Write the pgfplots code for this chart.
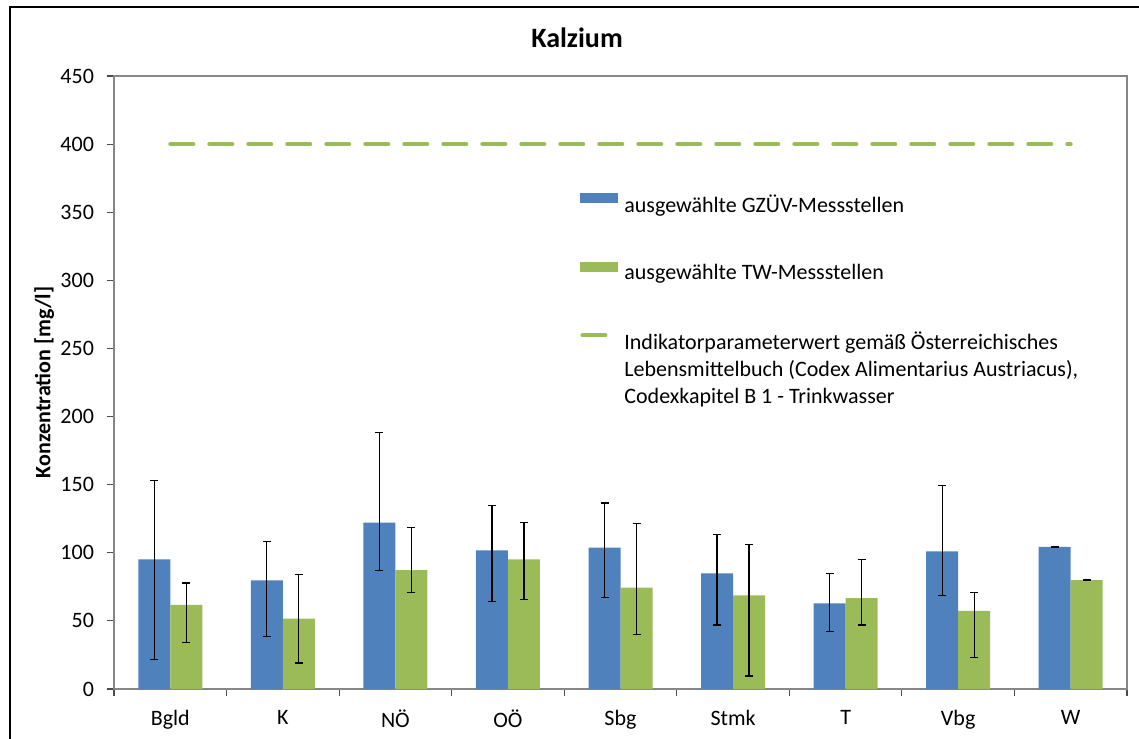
\documentclass[border=0pt]{standalone}
\usepackage{fontspec}
\setmainfont{Carlito}
\usepackage{pgfplots}
\pgfplotsset{compat=1.18}
\usepackage{pgfplotstable}

\definecolor{gzuev}{HTML}{4F81BD}
\definecolor{tw}{HTML}{9BBB59}
\definecolor{axgray}{HTML}{868686}

% x = Bundesland index, val = Mittelwert, ep/em = Fehlerbalken oben/unten
\pgfplotstableread{
x val ep em
0 95.1 57.7 73.6
1 79.7 28.6 41.1
2 122.2 66.1 35.2
3 101.7 33.0 37.6
4 103.7 32.8 36.5
5 84.8 28.6 37.8
6 62.8 22.0 20.8
7 101.0 48.2 32.5
8 104.4 0.3 0.3
}\gzuevdata

\pgfplotstableread{
x val ep em
0 61.8 16.0 27.6
1 51.6 32.3 32.5
2 87.3 31.3 16.4
3 95.1 26.9 29.6
4 74.5 46.8 34.4
5 68.7 37.2 59.2
6 66.8 28.1 19.8
7 57.4 13.5 34.2
8 80.0 0.3 0.3
}\twdata

\begin{document}
\begin{tikzpicture}
\useasboundingbox (-57pt,-24.5pt) rectangle (512.5pt,344.5pt);
% Rahmen des Diagrammbereichs
\draw[black, line width=0.75pt] (-52pt,-40pt) -- (-52pt,341pt) -- (530pt,341pt);
\begin{axis}[
    at={(0,0)}, anchor=south west,
    width=506.5pt, height=306.5pt, scale only axis,
    ybar=0pt, bar width=16pt,
    xmin=-0.5, xmax=8.5,
    ymin=0, ymax=450,
    ytick={0,50,...,450},
    xtick={-0.5,0.5,...,8.5},
    xticklabel={\relax},
    extra x ticks={0,1,...,8},
    extra x tick labels={Bgld,K,NÖ,OÖ,Sbg,Stmk,T,Vbg,W},
    extra x tick style={major tick length=0pt, tick label style={yshift=-7pt}},
    tick align=outside,
    major tick length=3.5pt,
    xtick pos=bottom, ytick pos=left,
    axis line style={axgray, line width=0.75pt},
    tick style={black!70, line width=0.6pt},
    tick label style={font=\fontsize{11}{13}\selectfont},
    yticklabel style={xshift=-3pt},
    /pgf/number format/assume math mode=true,
    ylabel={Konzentration [mg/l]},
    ylabel style={font=\bfseries\fontsize{11}{13}\selectfont, at={(axis description cs:-0.069,0.5)}, anchor=center},
    legend style={at={(axis description cs:0.46,0.813)}, anchor=north west,
        draw=none, fill=none, inner sep=0pt, row sep=20.5pt,
        font=\fontsize{11}{13.5}\selectfont,
        cells={anchor=base west}},
    legend cell align=left,
    error bars/error bar style={black, line width=0.6pt},
    error bars/error mark options={rotate=90, mark size=2pt, line width=0.6pt, black},
]
\addplot[fill=gzuev, draw=none,
    legend image code/.code={\fill[gzuev] (0pt,1pt) rectangle (19pt,6pt);},
    error bars/.cd, y dir=both, y explicit]
    table[x=x, y=val, y error plus=ep, y error minus=em] {\gzuevdata};
\addlegendentry{ausgewählte GZÜV-Messstellen}

\addplot[fill=tw, draw=none,
    legend image code/.code={\fill[tw] (0pt,1pt) rectangle (19pt,6pt);},
    error bars/.cd, y dir=both, y explicit]
    table[x=x, y=val, y error plus=ep, y error minus=em] {\twdata};
\addlegendentry{ausgewählte TW-Messstellen}

\addplot[sharp plot, tw, line width=2pt, line cap=round, dash pattern=on 11.5pt off 8pt, mark=none,
    legend image code/.code={\draw[tw, line width=2pt, line cap=round, dash pattern=on 11.5pt off 8pt] (1pt,3.5pt) -- (19pt,3.5pt);}]
    coordinates {(0,400) (8,400)};
\addlegendentry{\parbox[t]{260pt}{\raggedright Indikatorparameterwert gemäß Österreichisches\\Lebensmittelbuch (Codex Alimentarius Austriacus),\\Codexkapitel B 1 - Trinkwasser}}
\end{axis}
\node[font=\bfseries\fontsize{14}{16}\selectfont] at (231.5pt,325.5pt) {Kalzium};
\end{tikzpicture}
\end{document}
